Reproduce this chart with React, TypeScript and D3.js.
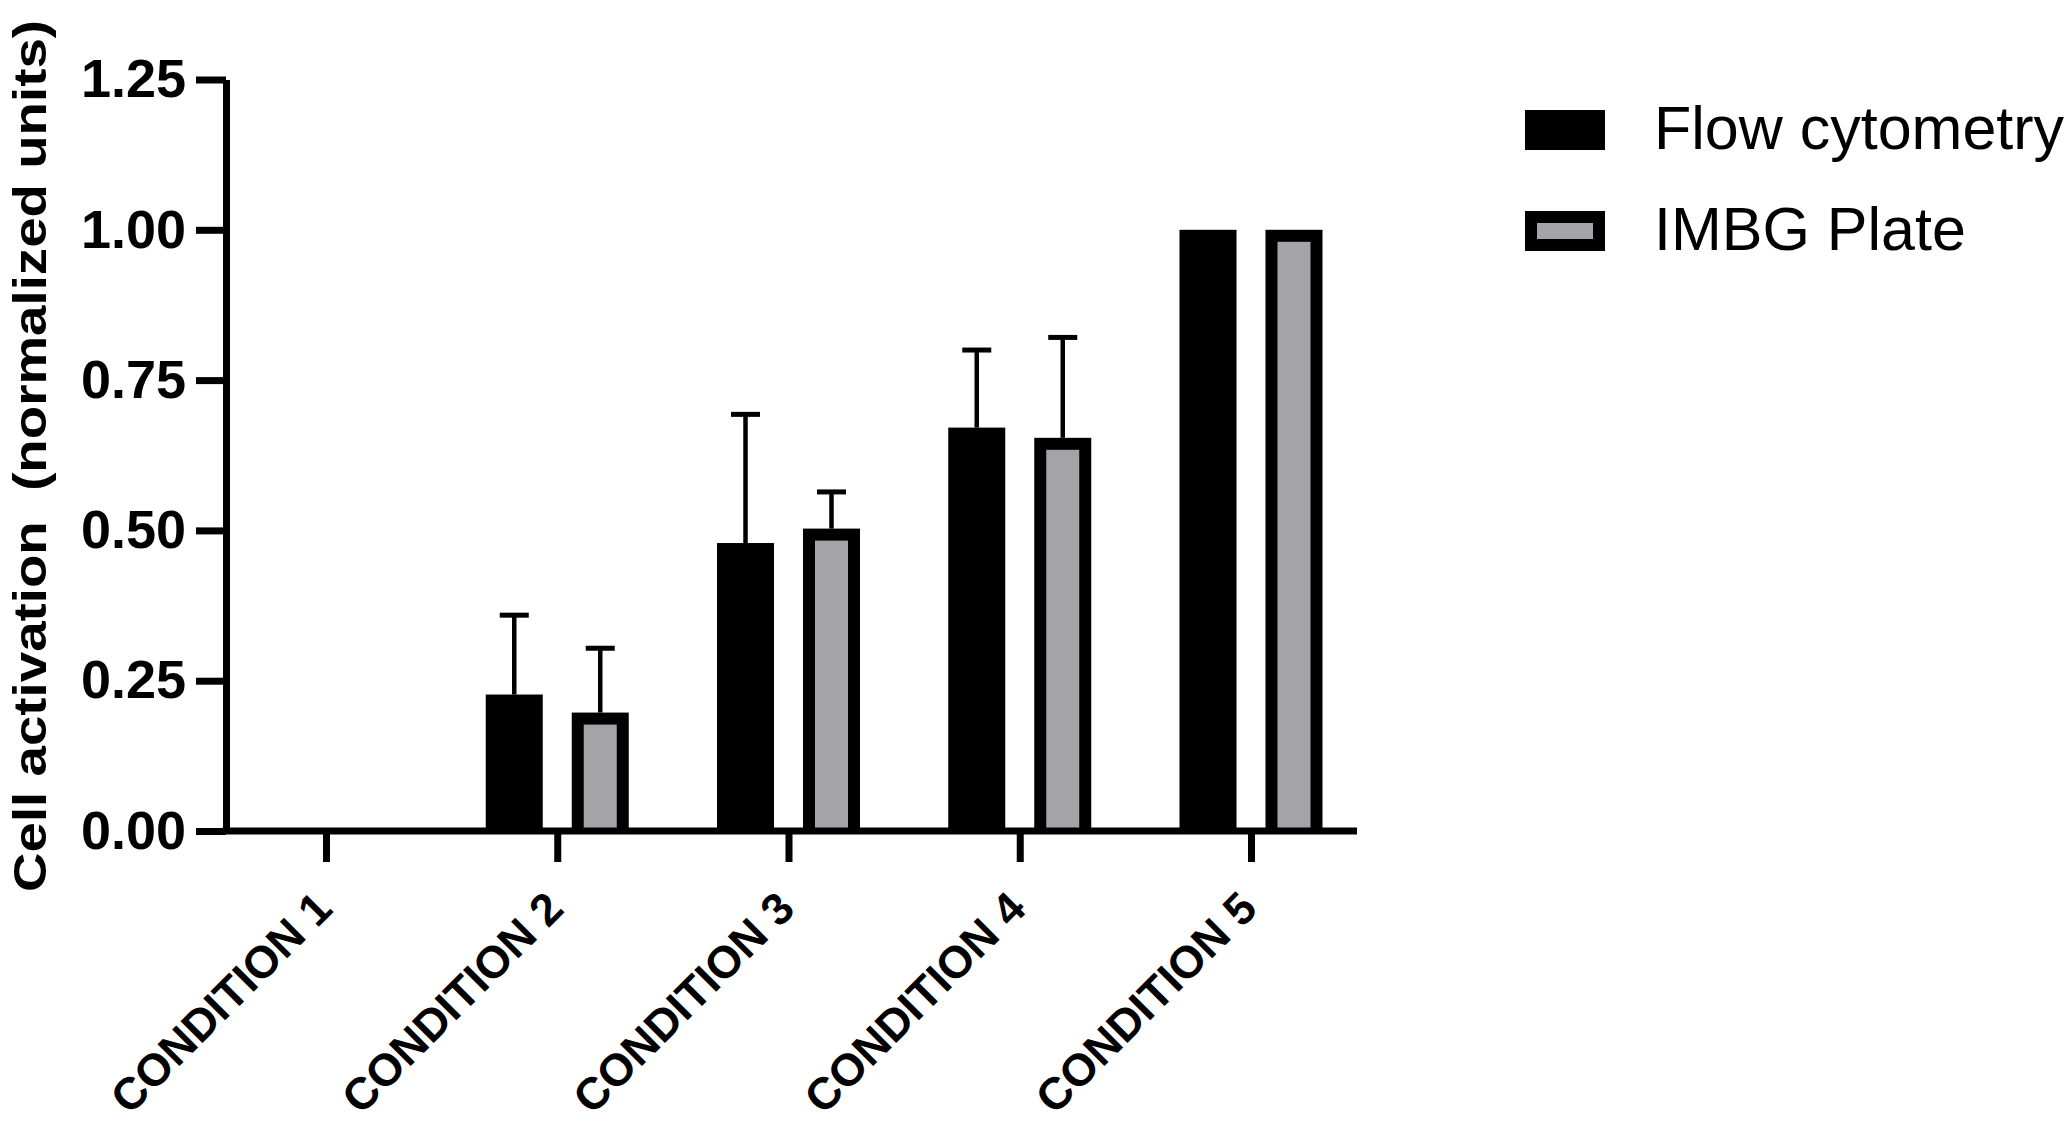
import React, { useEffect, useRef } from 'react';
import * as d3 from 'd3';

// values
const categories = ['CONDITION 1', 'CONDITION 2', 'CONDITION 3', 'CONDITION 4', 'CONDITION 5'];
const seriesNames = ['Flow cytometry', 'IMBG Plate'];
const flowMeans = [0, 0.227, 0.479, 0.671, 1.0];
const flowErrors = [0, 0.132, 0.214, 0.129, 0];
const imbgMeans = [0, 0.197, 0.503, 0.654, 1.0];
const imbgErrors = [0, 0.107, 0.061, 0.167, 0];
const yTicks = [0, 0.25, 0.5, 0.75, 1.0, 1.25];

const FONT = '"Liberation Sans", Arial, Helvetica, sans-serif';
const GRAY = '#a4a4a8';

const App: React.FC = () => {
  const svgRef = useRef<SVGSVGElement>(null);

  useEffect(() => {
    if (!svgRef.current) return;
    const width = 2067;
    const height = 1124;
    const axisX = 226;
    const plotRight = 1357;
    const axisY = 831;
    const lw = 7;

    const svg = d3.select(svgRef.current);
    svg.selectAll('*').remove();
    svg.attr('width', width).attr('height', height);

    const y = d3.scaleLinear().domain([0, 1.25]).range([axisY, 79.5]);
    const x = d3.scalePoint<string>().domain(categories).range([326, 1251]);
    const xSub = d3.scaleBand<string>().domain(seriesNames).range([-71.5, 71.5]).paddingInner(0.337);
    const bw = xSub.bandwidth();

    const series = [
      { name: seriesNames[0], means: flowMeans, errors: flowErrors },
      { name: seriesNames[1], means: imbgMeans, errors: imbgErrors },
    ];

    // bars
    series.forEach((s, si) => {
      const g = svg.append('g');
      categories.forEach((c, i) => {
        const v = s.means[i];
        if (v <= 0) return;
        const x0 = (x(c) as number) + (xSub(s.name) as number);
        const top = y(v);
        // error bar (upper only)
        const e = s.errors[i];
        if (e > 0) {
          const cx = x0 + bw / 2;
          g.append('line')
            .attr('x1', cx).attr('x2', cx)
            .attr('y1', top).attr('y2', y(v + e))
            .attr('stroke', '#000').attr('stroke-width', 4.5);
          g.append('line')
            .attr('x1', cx - 14.5).attr('x2', cx + 14.5)
            .attr('y1', y(v + e)).attr('y2', y(v + e))
            .attr('stroke', '#000').attr('stroke-width', 5);
        }
        g.append('rect')
          .attr('x', x0).attr('y', top)
          .attr('width', bw).attr('height', axisY - top)
          .attr('fill', '#000');
        if (si === 1) {
          g.append('rect')
            .attr('x', x0 + 12).attr('y', top + 12)
            .attr('width', bw - 24).attr('height', Math.max(0, axisY - top - 12))
            .attr('fill', GRAY);
        }
      });
    });

    // y axis
    const yAxis = svg.append('g')
      .attr('transform', `translate(${axisX},0)`)
      .call(d3.axisLeft(y).tickValues(yTicks).tickSize(30).tickSizeOuter(0).tickPadding(10)
        .tickFormat(d => d3.format('.2f')(d as number)));
    yAxis.select('.domain').attr('stroke-width', lw).attr('stroke', '#000');
    yAxis.selectAll('.tick line').attr('stroke-width', lw).attr('stroke', '#000');
    yAxis.selectAll('.tick text')
      .attr('font-family', FONT).attr('font-size', 54).attr('font-weight', 'bold')
      .attr('fill', '#000');

    // x axis line + ticks
    svg.append('line')
      .attr('x1', axisX - lw / 2).attr('x2', plotRight)
      .attr('y1', axisY).attr('y2', axisY)
      .attr('stroke', '#000').attr('stroke-width', lw);
    const xAxis = svg.append('g')
      .attr('transform', `translate(0,${axisY})`)
      .call(d3.axisBottom(x).tickSize(31).tickSizeOuter(0));
    xAxis.select('.domain').remove();
    xAxis.selectAll('.tick line').attr('stroke-width', lw).attr('stroke', '#000');
    xAxis.selectAll('.tick text').remove();
    xAxis.selectAll('.tick').append('text')
      .attr('transform', 'translate(8,80) rotate(-45)')
      .attr('text-anchor', 'end')
      .attr('font-family', FONT).attr('font-size', 45).attr('font-weight', 'bold')
      .attr('fill', '#000')
      .text(d => d as string);

    // y title
    svg.append('text')
      .attr('transform', `translate(46,456) rotate(-90)`)
      .attr('text-anchor', 'middle')
      .attr('font-family', FONT).attr('font-size', 46).attr('font-weight', 'bold')
      .attr('textLength', 872).attr('lengthAdjust', 'spacingAndGlyphs')
      .style('white-space', 'pre')
      .text('Cell activation  (normalized units)');

    // legend
    const legend = svg.append('g').attr('transform', 'translate(1525,110)');
    seriesNames.forEach((name, i) => {
      const g = legend.append('g').attr('transform', `translate(0,${i * 101})`);
      g.append('rect').attr('width', 80).attr('height', 40).attr('fill', '#000');
      if (i === 1) {
        g.append('rect').attr('x', 12).attr('y', 12).attr('width', 56).attr('height', 16).attr('fill', GRAY);
      }
      g.append('text')
        .attr('x', 129).attr('y', 39)
        .attr('font-family', FONT).attr('font-size', 61)
        .attr('fill', '#000')
        .text(name);
    });
  }, []);

  return (
    <div style={{ position: 'absolute', left: 0, top: 0, background: '#fff' }}>
      <svg ref={svgRef} style={{ display: 'block' }} />
    </div>
  );
};

export default App;
